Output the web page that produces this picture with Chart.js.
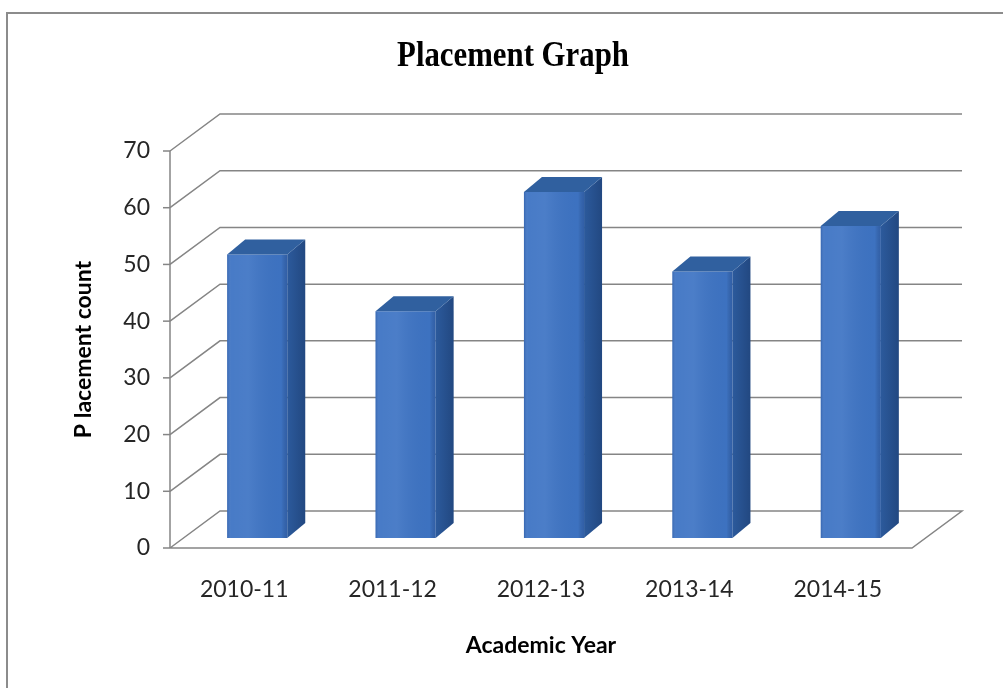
<!DOCTYPE html>
<html lang="en">
<head>
<meta charset="UTF-8">
<title>Placement Graph</title>
<script src="https://cdn.jsdelivr.net/npm/chart.js"></script>
<style>
  html, body { margin: 0; padding: 0; background: #fff; }
  .chart-container { width: 1003px; height: 688px; position: relative; }
</style>
</head>
<body>
<div class="chart-container">
  <canvas id="myChart"></canvas>
</div>
<script>
const academicYears = ['2010-11', '2011-12', '2012-13', '2013-14', '2014-15'];
const placementCounts = [50, 40, 61, 47, 55];
const countTicks = [0, 10, 20, 30, 40, 50, 60, 70];

// pseudo 3D: depth of the walls, where the bars sit in that depth, bar thickness
const WALL_DX = 50, WALL_DY = -37;
const BAR_SHIFT_X = 13, BAR_SHIFT_Y = -10;
const BAR_DX = 18, BAR_DY = -15;

const wallsPlugin = {
    id: 'walls',
    beforeDatasetsDraw(chart) {
        const { ctx, chartArea: a, scales: { y } } = chart;
        ctx.save();
        ctx.strokeStyle = '#858585';
        ctx.lineWidth = 1.5;
        countTicks.forEach(v => {
            const py = y.getPixelForValue(v);
            ctx.beginPath();
            ctx.moveTo(a.left, py);
            ctx.lineTo(a.left + WALL_DX, py + WALL_DY);
            ctx.lineTo(a.right + WALL_DX, py + WALL_DY);
            if (v === 0) {
                ctx.lineTo(a.right, py);
                ctx.lineTo(a.left, py);
            }
            ctx.stroke();
            ctx.beginPath();
            ctx.moveTo(a.left - 7, py);
            ctx.lineTo(a.left, py);
            ctx.stroke();
        });
        ctx.beginPath();
        ctx.moveTo(a.left, y.getPixelForValue(70));
        ctx.lineTo(a.left, y.getPixelForValue(0));
        ctx.stroke();
        ctx.restore();

        // push the bars back into the box
        ctx.save();
        ctx.translate(BAR_SHIFT_X, BAR_SHIFT_Y);
    },
    afterDatasetsDraw(chart) {
        const ctx = chart.ctx;
        chart.getDatasetMeta(0).data.forEach(bar => {
            const { x, y, base, width } = bar.getProps(['x', 'y', 'base', 'width'], true);
            const l = x - width / 2, r = x + width / 2;

            // shading on the front face
            const shine = ctx.createLinearGradient(l, 0, r, 0);
            shine.addColorStop(0, 'rgba(20,50,110,0.22)');
            shine.addColorStop(0.07, 'rgba(255,255,255,0.05)');
            shine.addColorStop(0.35, 'rgba(255,255,255,0.07)');
            shine.addColorStop(0.9, 'rgba(0,0,0,0.02)');
            shine.addColorStop(1, 'rgba(10,30,80,0.25)');
            ctx.fillStyle = shine;
            ctx.fillRect(l, y, width, base - y);

            // side face
            const side = ctx.createLinearGradient(r, 0, r + BAR_DX, 0);
            side.addColorStop(0, '#2c5a9c');
            side.addColorStop(1, '#224881');
            ctx.fillStyle = side;
            ctx.beginPath();
            ctx.moveTo(r, y);
            ctx.lineTo(r + BAR_DX, y + BAR_DY);
            ctx.lineTo(r + BAR_DX, base + BAR_DY);
            ctx.lineTo(r, base);
            ctx.closePath();
            ctx.fill();

            // top face
            ctx.fillStyle = '#30609f';
            ctx.beginPath();
            ctx.moveTo(l, y);
            ctx.lineTo(l + BAR_DX, y + BAR_DY);
            ctx.lineTo(r + BAR_DX, y + BAR_DY);
            ctx.lineTo(r, y);
            ctx.closePath();
            ctx.fill();
        });
        ctx.restore();
    },
    afterDraw(chart) {
        const ctx = chart.ctx;
        ctx.save();
        // outer frame
        ctx.strokeStyle = '#8c8c8c';
        ctx.lineWidth = 2;
        ctx.beginPath();
        ctx.moveTo(7, 688);
        ctx.lineTo(7, 13);
        ctx.lineTo(1003, 13);
        ctx.stroke();

        // condensed serif title
        ctx.fillStyle = '#000';
        ctx.font = 'bold 35px "Liberation Serif"';
        ctx.textAlign = 'center';
        ctx.textBaseline = 'alphabetic';
        ctx.translate(513, 66);
        ctx.scale(0.88, 1);
        ctx.fillText('Placement Graph', 0, 0);
        ctx.restore();
    }
};

const ctx = document.getElementById('myChart').getContext('2d');
new Chart(ctx, {
    type: 'bar',
    data: {
        labels: academicYears,
        datasets: [{
            label: 'Placement count',
            data: placementCounts,
            backgroundColor: '#3e74c4',
            borderWidth: 0,
            categoryPercentage: 1,
            barPercentage: 0.405
        }]
    },
    options: {
        responsive: true,
        maintainAspectRatio: false,
        animation: false,
        layout: {
            padding: { top: 151, left: 66, right: 91, bottom: 25 }
        },
        scales: {
            x: {
                grid: { display: false, drawTicks: false },
                border: { display: false },
                ticks: {
                    padding: 28,
                    color: '#262626',
                    font: { family: 'Lato', size: 23 }
                },
                title: {
                    display: true,
                    text: 'Academic Year',
                    color: '#000',
                    font: { family: 'Lato', size: 23, weight: 'bold' }
                },
                afterFit(scale) { scale.height = 115; }
            },
            y: {
                min: 0,
                max: 70,
                grid: { display: false, drawTicks: false },
                border: { display: false },
                ticks: {
                    stepSize: 10,
                    padding: 20,
                    color: '#262626',
                    font: { family: 'Lato', size: 23 }
                },
                title: {
                    display: true,
                    text: 'P lacement count',
                    color: '#000',
                    font: { family: 'Lato', size: 23, weight: 'bold' }
                },
                afterFit(scale) { scale.width = 104; }
            }
        },
        plugins: {
            legend: { display: false },
            tooltip: { enabled: false }
        }
    },
    plugins: [wallsPlugin]
});
</script>
</body>
</html>
